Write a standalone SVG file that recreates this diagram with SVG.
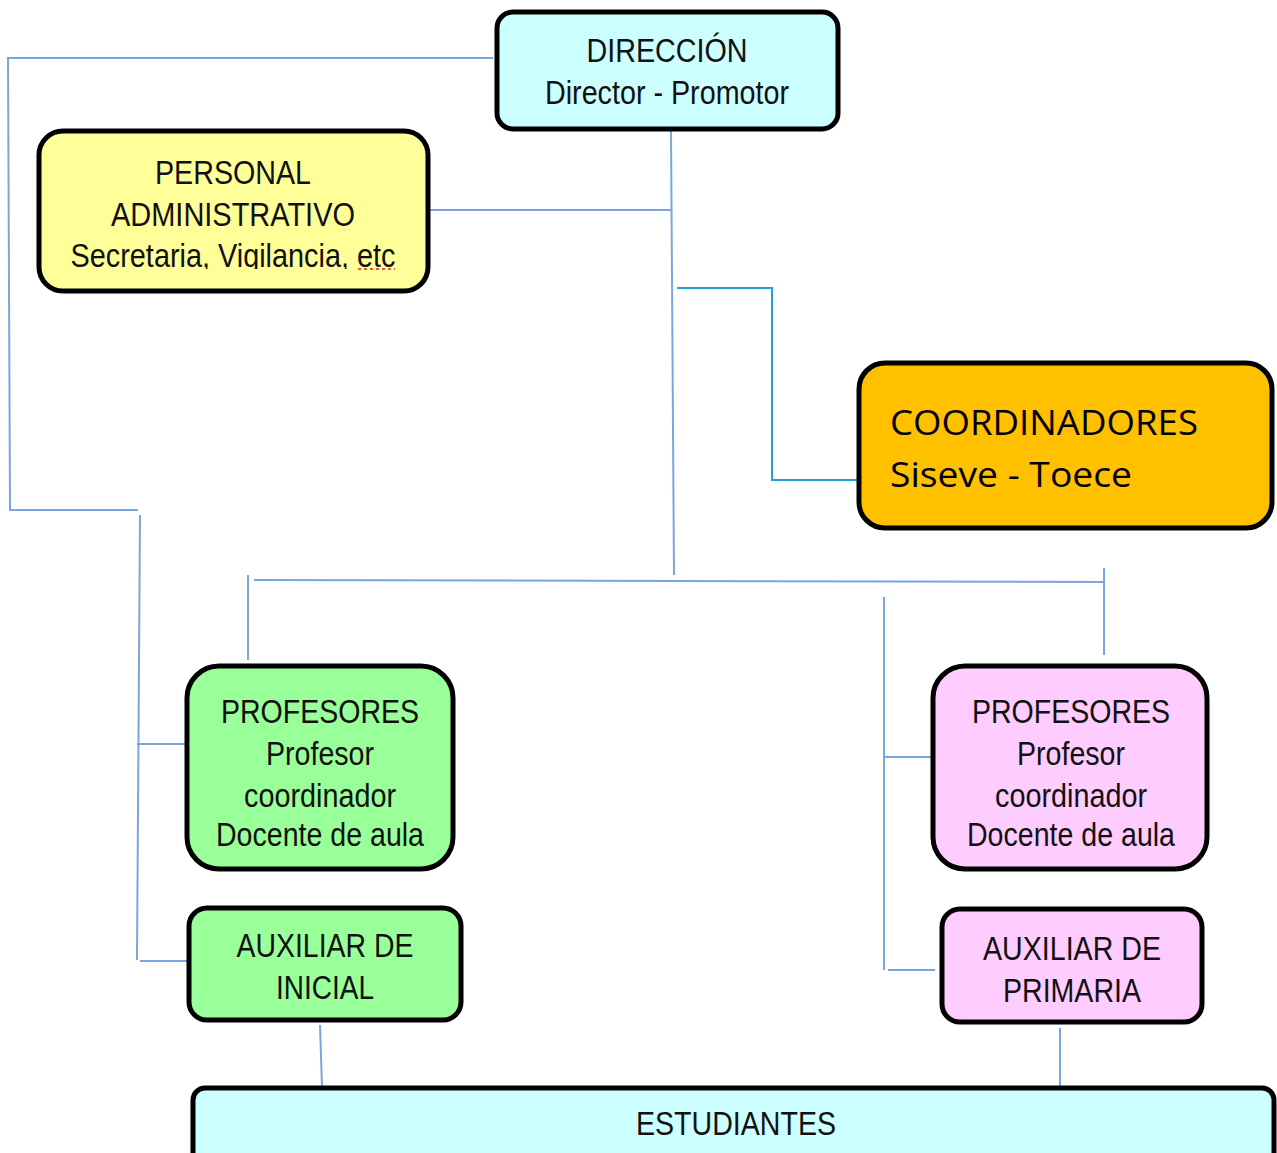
<svg xmlns="http://www.w3.org/2000/svg" width="1277" height="1153" viewBox="0 0 1277 1153">
<style>
.box{stroke:#000;stroke-width:5}
.t{font-family:"Liberation Sans",Arial,sans-serif;font-size:33px;fill:#111;text-anchor:middle}
.c{font-family:"Open Sans","Noto Sans",sans-serif;font-size:35px;fill:#000}
.ln{fill:none;stroke:#7aa7db;stroke-width:2}
.ln2{fill:none;stroke:#22a0dc;stroke-width:2}
</style>
<defs>
<clipPath id="clipSec"><rect x="40" y="230" width="386" height="39"/></clipPath>
</defs>
<rect width="1277" height="1153" fill="#fff"/>
<g id="connectors">
<polyline class="ln" points="493,58 8,58 10,510 138,510"/>
<line class="ln" x1="140" y1="515" x2="137" y2="960"/>
<line class="ln" x1="137" y1="744" x2="186" y2="744"/>
<line class="ln" x1="140" y1="961" x2="188" y2="961"/>
<line class="ln" x1="671" y1="129" x2="674" y2="575"/>
<line class="ln" x1="428" y1="210" x2="671" y2="210"/>
<polyline class="ln2" points="677,288 772,288 772,480 858,480"/>
<line class="ln" x1="254" y1="580" x2="1105" y2="582"/>
<line class="ln" x1="248" y1="575" x2="248" y2="660"/>
<line class="ln" x1="1104" y1="568" x2="1104" y2="655"/>
<line class="ln" x1="884" y1="597" x2="884" y2="970"/>
<line class="ln" x1="884" y1="757" x2="932" y2="757"/>
<line class="ln" x1="888" y1="970" x2="935" y2="970"/>
<line class="ln" x1="320" y1="1025" x2="322" y2="1087"/>
<line class="ln" x1="1060" y1="1028" x2="1060" y2="1088"/>
</g>
<g id="direccion">
<rect class="box" x="497" y="12" width="341" height="117" rx="16" fill="#ccffff"/>
<text class="t" x="667" y="62" textLength="161" lengthAdjust="spacingAndGlyphs">DIRECCIÓN</text>
<text class="t" x="667" y="104" textLength="244" lengthAdjust="spacingAndGlyphs">Director - Promotor</text>
</g>
<g id="personal">
<rect class="box" x="39" y="131" width="389" height="160" rx="24" fill="#ffff99"/>
<text class="t" x="233" y="184" textLength="156" lengthAdjust="spacingAndGlyphs">PERSONAL</text>
<text class="t" x="233" y="226" textLength="244" lengthAdjust="spacingAndGlyphs">ADMINISTRATIVO</text>
<text class="t" x="233" y="267" textLength="325" lengthAdjust="spacingAndGlyphs" clip-path="url(#clipSec)">Secretaria, Vigilancia, etc</text>
<line x1="358" y1="269" x2="395" y2="269" stroke="#e02020" stroke-width="1.5" stroke-dasharray="3,3"/>
</g>
<g id="coordinadores">
<rect class="box" x="859" y="363" width="413" height="165" rx="26" fill="#ffc000"/>
<text class="c" x="890" y="435" textLength="308" lengthAdjust="spacingAndGlyphs">COORDINADORES</text>
<text class="c" x="890" y="487" textLength="242" lengthAdjust="spacingAndGlyphs">Siseve - Toece</text>
</g>
<g id="profesores-inicial">
<rect class="box" x="187" y="666" width="266" height="203" rx="32" fill="#99ff99"/>
<text class="t" x="320" y="723" textLength="198" lengthAdjust="spacingAndGlyphs">PROFESORES</text>
<text class="t" x="320" y="765" textLength="108" lengthAdjust="spacingAndGlyphs">Profesor</text>
<text class="t" x="320" y="807" textLength="152" lengthAdjust="spacingAndGlyphs">coordinador</text>
<text class="t" x="320" y="846" textLength="208" lengthAdjust="spacingAndGlyphs">Docente de aula</text>
</g>
<g id="profesores-primaria">
<rect class="box" x="933" y="666" width="274" height="203" rx="32" fill="#ffccff"/>
<text class="t" x="1071" y="723" textLength="198" lengthAdjust="spacingAndGlyphs">PROFESORES</text>
<text class="t" x="1071" y="765" textLength="108" lengthAdjust="spacingAndGlyphs">Profesor</text>
<text class="t" x="1071" y="807" textLength="152" lengthAdjust="spacingAndGlyphs">coordinador</text>
<text class="t" x="1071" y="846" textLength="208" lengthAdjust="spacingAndGlyphs">Docente de aula</text>
</g>
<g id="auxiliar-inicial">
<rect class="box" x="189" y="908" width="272" height="112" rx="18" fill="#99ff99"/>
<text class="t" x="325" y="957" textLength="177" lengthAdjust="spacingAndGlyphs">AUXILIAR DE</text>
<text class="t" x="325" y="999" textLength="98" lengthAdjust="spacingAndGlyphs">INICIAL</text>
</g>
<g id="auxiliar-primaria">
<rect class="box" x="942" y="909" width="260" height="113" rx="18" fill="#ffccff"/>
<text class="t" x="1072" y="960" textLength="178" lengthAdjust="spacingAndGlyphs">AUXILIAR DE</text>
<text class="t" x="1072" y="1002" textLength="138" lengthAdjust="spacingAndGlyphs">PRIMARIA</text>
</g>
<g id="estudiantes">
<rect class="box" x="193" y="1088" width="1081" height="80" rx="12" fill="#ccffff"/>
<text class="t" x="736" y="1135" textLength="200" lengthAdjust="spacingAndGlyphs">ESTUDIANTES</text>
</g>
</svg>
